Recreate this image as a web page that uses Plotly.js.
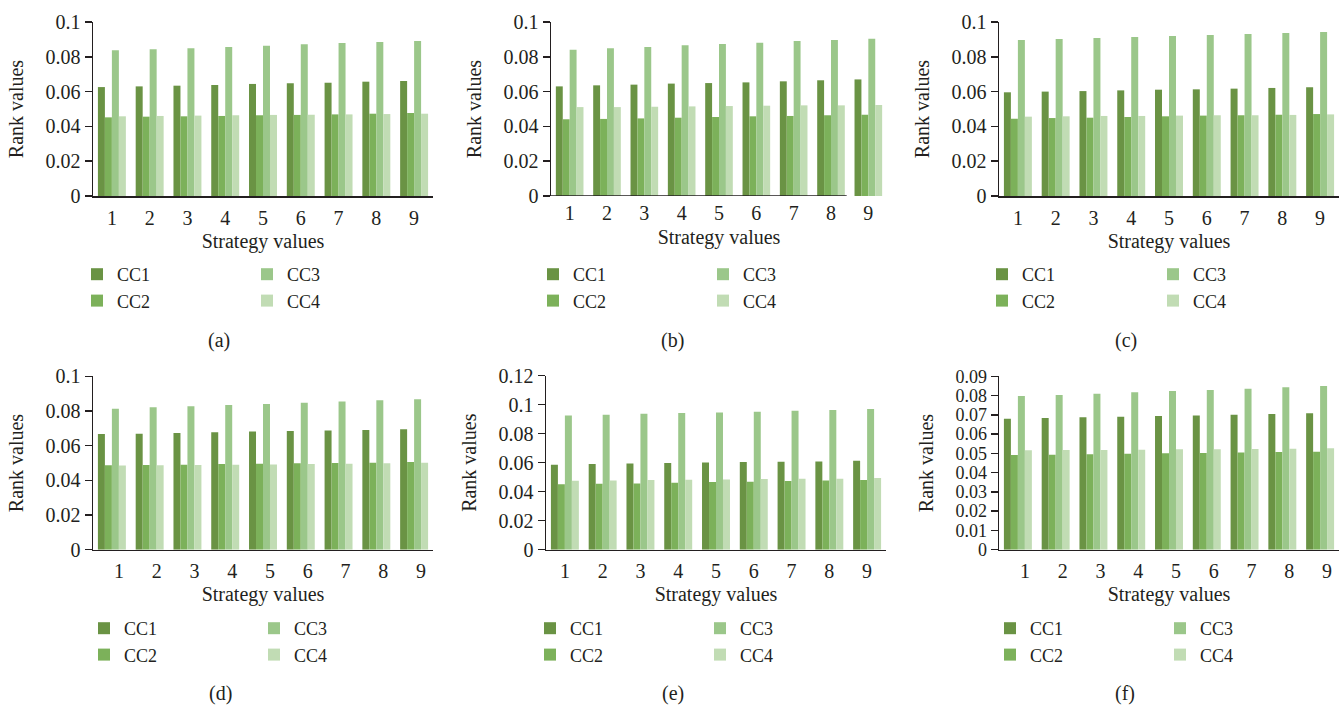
<!DOCTYPE html>
<html>
<head>
<meta charset="utf-8">
<script src="https://cdn.plot.ly/plotly-3.0.1.min.js"></script>
<style>html,body{margin:0;padding:0;background:#fff;}#chart{width:1344px;height:706px;}</style>
</head>
<body>
<div id="chart"></div>
<script>
// ---- data ----
var categories = ['1','2','3','4','5','6','7','8','9'];
var seriesNames = ['CC1','CC2','CC3','CC4'];
var panelLabels = ['(a)','(b)','(c)','(d)','(e)','(f)'];

var a_CC1 = [0.0626,0.0630,0.0634,0.0638,0.0644,0.0648,0.0651,0.0657,0.0661];
var a_CC2 = [0.0452,0.0456,0.0458,0.0460,0.0464,0.0466,0.0469,0.0473,0.0477];
var a_CC3 = [0.0837,0.0843,0.0849,0.0856,0.0864,0.0872,0.0879,0.0885,0.0891];
var a_CC4 = [0.0458,0.0460,0.0462,0.0464,0.0466,0.0467,0.0469,0.0471,0.0473];

var b_CC1 = [0.0630,0.0636,0.0640,0.0646,0.0649,0.0653,0.0659,0.0665,0.0670];
var b_CC2 = [0.0441,0.0443,0.0446,0.0450,0.0454,0.0458,0.0460,0.0464,0.0467];
var b_CC3 = [0.0841,0.0849,0.0856,0.0866,0.0874,0.0881,0.0891,0.0897,0.0904];
var b_CC4 = [0.0511,0.0511,0.0513,0.0515,0.0517,0.0519,0.0521,0.0521,0.0523];

var c_CC1 = [0.0596,0.0600,0.0603,0.0607,0.0611,0.0613,0.0617,0.0621,0.0625];
var c_CC2 = [0.0444,0.0448,0.0450,0.0454,0.0458,0.0462,0.0464,0.0467,0.0471];
var c_CC3 = [0.0897,0.0902,0.0908,0.0914,0.0920,0.0925,0.0931,0.0937,0.0943];
var c_CC4 = [0.0456,0.0458,0.0460,0.0460,0.0462,0.0464,0.0464,0.0466,0.0469];

var d_CC1 = [0.0667,0.0669,0.0673,0.0677,0.0681,0.0685,0.0688,0.0690,0.0694];
var d_CC2 = [0.0487,0.0488,0.0490,0.0494,0.0496,0.0498,0.0500,0.0502,0.0506];
var d_CC3 = [0.0813,0.0821,0.0827,0.0835,0.0840,0.0848,0.0854,0.0862,0.0867];
var d_CC4 = [0.0485,0.0487,0.0488,0.0490,0.0492,0.0494,0.0496,0.0498,0.0502];

var e_CC1 = [0.0586,0.0591,0.0595,0.0598,0.0602,0.0605,0.0607,0.0609,0.0614];
var e_CC2 = [0.0451,0.0455,0.0457,0.0462,0.0467,0.0469,0.0474,0.0478,0.0480];
var e_CC3 = [0.0926,0.0931,0.0938,0.0943,0.0947,0.0952,0.0959,0.0963,0.0970];
var e_CC4 = [0.0476,0.0478,0.0480,0.0483,0.0485,0.0487,0.0490,0.0490,0.0494];

var f_CC1 = [0.0680,0.0684,0.0687,0.0690,0.0694,0.0697,0.0701,0.0704,0.0708];
var f_CC2 = [0.0492,0.0493,0.0495,0.0498,0.0500,0.0502,0.0504,0.0507,0.0509];
var f_CC3 = [0.0798,0.0803,0.0810,0.0817,0.0824,0.0829,0.0836,0.0843,0.0850];
var f_CC4 = [0.0516,0.0517,0.0517,0.0519,0.0521,0.0521,0.0523,0.0524,0.0526];

var yMax = [0.1, 0.1, 0.1, 0.1, 0.12, 0.09];
var yStep = [0.02, 0.02, 0.02, 0.02, 0.02, 0.01];

// ---- styling ----
var W = 1344, H = 706;
var FONT = 'Liberation Serif, Times New Roman, serif';
var FS = 20;
var LFS = 18;
var TXT = '#231f20';
var colors = ['#6a9344', '#7cb15a', '#9bc78a', '#c1dcb4'];

var panels = [
  [a_CC1, a_CC2, a_CC3, a_CC4],
  [b_CC1, b_CC2, b_CC3, b_CC4],
  [c_CC1, c_CC2, c_CC3, c_CC4],
  [d_CC1, d_CC2, d_CC3, d_CC4],
  [e_CC1, e_CC2, e_CC3, e_CC4],
  [f_CC1, f_CC2, f_CC3, f_CC4]
];

// plot-area boxes in pixels [left, right, top, bottom]
var boxes = [
  [93, 433, 22, 196],
  [551, 887, 22, 196],
  [999, 1339, 22, 196],
  [93, 433, 376.3, 549.7],
  [546, 886, 375.7, 549.7],
  [999, 1339, 376.3, 549.7]
];
// legend square left edge (x) of column 1 and 2, first row centre (y)
var legendCols = [[91, 261], [547, 717], [996, 1167], [98, 268], [544, 714], [1004, 1174]];
var legendRowY = [270, 270, 270, 624, 624, 624];
var captionPos = [[219, 340], [672, 340], [1126, 340], [220, 693], [673, 693], [1125, 693]];
var labelShift = [0, 0, 0, 7, 0, 7];
var yTickSize = [20, 20, 20, 20, 20, 18];

var traces = [];
var layout = {
  width: W, height: H,
  margin: {l: 0, r: 0, t: 0, b: 0, autoexpand: false},
  paper_bgcolor: '#fff', plot_bgcolor: '#fff',
  font: {family: FONT, size: FS, color: TXT},
  barmode: 'group', bargap: 0.26, bargroupgap: 0,
  showlegend: true,
  annotations: [], shapes: []
};

var legIdx = 0;
panels.forEach(function (series, p) {
  var n = p === 0 ? '' : String(p + 1);
  var legNames = [];
  for (var c = 0; c < 2; c++) {
    legIdx++;
    var ln = legIdx === 1 ? 'legend' : 'legend' + legIdx;
    legNames.push(ln);
    layout[ln] = {
      x: (legendCols[p][c] - 14) / W, y: 1 - (legendRowY[p] - 14) / H,
      xanchor: 'left', yanchor: 'top',
      orientation: 'v', itemwidth: 30, traceorder: 'normal',
      font: {family: FONT, size: LFS, color: TXT},
      bgcolor: 'rgba(0,0,0,0)', borderwidth: 0
    };
  }
  series.forEach(function (vals, s) {
    traces.push({
      type: 'bar', x: categories, y: vals, name: seriesNames[s],
      xaxis: 'x' + n, yaxis: 'y' + n,
      marker: {color: colors[s], line: {width: 0}},
      legend: legNames[s < 2 ? 0 : 1],
      hoverinfo: 'y'
    });
  });
  var b = boxes[p];
  var showLine = p !== 1;
  layout['xaxis' + n] = {
    domain: [b[0] / W, b[1] / W], anchor: 'y' + n,
    type: 'category', range: [-0.5, 8.5],
    showline: showLine, linecolor: TXT, linewidth: 1.5,
    ticks: '', showgrid: false, zeroline: false,
    tickfont: {family: FONT, size: FS, color: TXT},
    ticklabelshift: labelShift[p],
    ticklabelstandoff: 3,
    title: {text: 'Strategy values', font: {family: FONT, size: FS, color: TXT}, standoff: 6},
    fixedrange: true
  };
  layout['yaxis' + n] = {
    domain: [1 - b[3] / H, 1 - b[2] / H], anchor: 'x' + n,
    range: [0, yMax[p]], dtick: yStep[p], tick0: 0,
    showline: true, linecolor: TXT, linewidth: 1.5,
    ticks: 'outside', ticklen: 7, tickwidth: 1.5, tickcolor: TXT,
    showgrid: false, zeroline: false,
    tickfont: {family: FONT, size: yTickSize[p], color: TXT},
    title: {text: 'Rank values', font: {family: FONT, size: FS, color: TXT}, standoff: 16},
    fixedrange: true
  };
  if (!showLine) {
    layout.shapes.push({
      type: 'line', xref: 'x' + n, yref: 'y' + n,
      x0: -0.5, x1: 7.42, y0: 0, y1: 0,
      line: {color: TXT, width: 1.5}
    });
  }
  layout.annotations.push({
    text: panelLabels[p], xref: 'paper', yref: 'paper',
    x: captionPos[p][0] / W, y: 1 - captionPos[p][1] / H,
    xanchor: 'center', yanchor: 'middle', showarrow: false,
    font: {family: FONT, size: FS, color: TXT}
  });
});

Plotly.newPlot('chart', traces, layout, {displayModeBar: false, staticPlot: true});
</script>
</body>
</html>
